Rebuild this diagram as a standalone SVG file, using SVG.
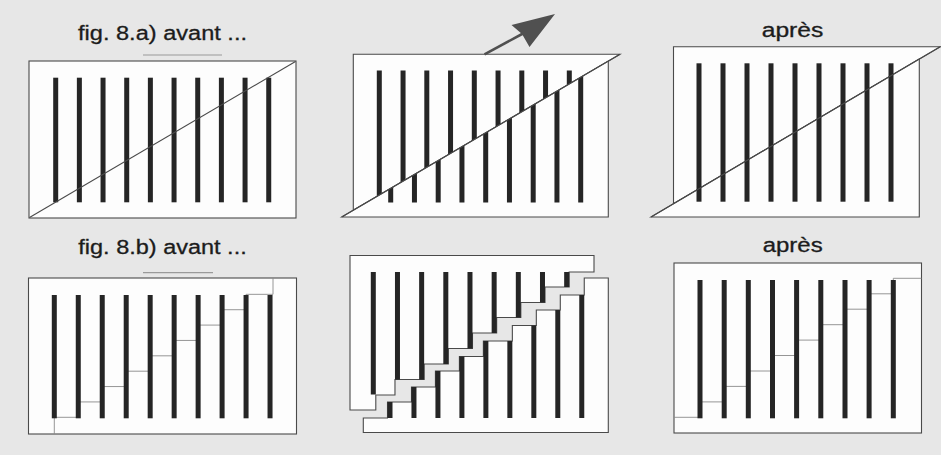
<svg xmlns="http://www.w3.org/2000/svg" width="941" height="455" viewBox="0 0 941 455">
<defs>
<style>
.bg{fill:#e7e7e7}
.pn{fill:#fdfdfd;stroke:#4a4a4a;stroke-width:1.1}
.bar{fill:#252525}
.cut{fill:none;stroke:#4a4a4a;stroke-width:1.1}
.step{fill:none;stroke:#8a8a8a;stroke-width:0.9}
.faint{stroke:#9a9a9a;stroke-width:1.2}
.lbl{font-family:"Liberation Sans",Arial,Helvetica,sans-serif;font-size:20px;fill:#1c1c1c;stroke:#1c1c1c;stroke-width:0.3}
</style>
<clipPath id="c2u"><polygon points="353.3,54.3 620,54.3 353.3,210.2"/></clipPath>
<clipPath id="c2l"><polygon points="341.7,217 608.3,61.1 608.3,217"/></clipPath>
</defs>
<rect class="bg" x="0" y="0" width="941" height="455"/>

<g id="labels">
<text class="lbl" x="78" y="39.5" textLength="169" lengthAdjust="spacingAndGlyphs">fig. 8.a) avant ...</text>
<text class="lbl" x="761.7" y="37.3" textLength="61.6" lengthAdjust="spacingAndGlyphs">après</text>
<text class="lbl" x="78.3" y="254" textLength="168.4" lengthAdjust="spacingAndGlyphs">fig. 8.b) avant ...</text>
<text class="lbl" x="762.7" y="252" textLength="60" lengthAdjust="spacingAndGlyphs">après</text>
<line class="faint" x1="143" y1="55" x2="222" y2="55"/>
<line class="faint" x1="143" y1="272.7" x2="213" y2="272.7"/>
</g>

<!-- Panel 1: fig 8.a avant -->
<g id="p1">
<rect class="pn" x="29" y="61" width="267" height="157"/>
<g>
<rect class="bar" x="53.2" y="77.7" width="5" height="124.6"/>
<rect class="bar" x="76.87" y="77.7" width="5" height="124.6"/>
<rect class="bar" x="100.54" y="77.7" width="5" height="124.6"/>
<rect class="bar" x="124.21" y="77.7" width="5" height="124.6"/>
<rect class="bar" x="147.88" y="77.7" width="5" height="124.6"/>
<rect class="bar" x="171.55" y="77.7" width="5" height="124.6"/>
<rect class="bar" x="195.22" y="77.7" width="5" height="124.6"/>
<rect class="bar" x="218.89" y="77.7" width="5" height="124.6"/>
<rect class="bar" x="242.56" y="77.7" width="5" height="124.6"/>
<rect class="bar" x="266.23" y="77.7" width="5" height="124.6"/>
</g>
<line class="cut" x1="29.5" y1="217.5" x2="295.5" y2="61.5"/>
</g>

<!-- Panel 2: sliding -->
<g id="p2">
<polygon class="pn" points="353.3,54.3 620,54.3 353.3,210.2"/>
<polygon class="pn" points="341.7,217 608.3,61.1 608.3,217"/>
<g clip-path="url(#c2u)">
<rect class="bar" x="376.8" y="70.5" width="5" height="132"/>
<rect class="bar" x="400.55" y="70.5" width="5" height="132"/>
<rect class="bar" x="424.3" y="70.5" width="5" height="132"/>
<rect class="bar" x="448.05" y="70.5" width="5" height="132"/>
<rect class="bar" x="471.8" y="70.5" width="5" height="132"/>
<rect class="bar" x="495.55" y="70.5" width="5" height="132"/>
<rect class="bar" x="519.3" y="70.5" width="5" height="132"/>
<rect class="bar" x="543.05" y="70.5" width="5" height="132"/>
<rect class="bar" x="566.8" y="70.5" width="5" height="132"/>
</g>
<g clip-path="url(#c2l)">
<rect class="bar" x="388.2" y="70.5" width="5" height="132"/>
<rect class="bar" x="411.95" y="70.5" width="5" height="132"/>
<rect class="bar" x="435.7" y="70.5" width="5" height="132"/>
<rect class="bar" x="459.45" y="70.5" width="5" height="132"/>
<rect class="bar" x="483.2" y="70.5" width="5" height="132"/>
<rect class="bar" x="506.95" y="70.5" width="5" height="132"/>
<rect class="bar" x="530.7" y="70.5" width="5" height="132"/>
<rect class="bar" x="554.45" y="70.5" width="5" height="132"/>
<rect class="bar" x="578.2" y="70.5" width="5" height="132"/>
</g>
<line class="cut" x1="341.7" y1="217" x2="620" y2="54.3"/>
<line x1="484.5" y1="54.3" x2="523" y2="33.5" stroke="#505050" stroke-width="2.6"/>
<polygon points="555,14 511.5,25 522,34 529.5,47" fill="#505050"/>
</g>

<!-- Panel 3: fig 8.a après -->
<g id="p3">
<polygon class="pn" points="673.5,46.7 940.5,46.7 673.5,203.7"/>
<polygon class="pn" points="651,217 919.3,59 919.3,217"/>
<g>
<rect class="bar" x="696.5" y="63.3" width="5" height="138.4"/>
<rect class="bar" x="720.5" y="63.3" width="5" height="138.4"/>
<rect class="bar" x="744.5" y="63.3" width="5" height="138.4"/>
<rect class="bar" x="768.5" y="63.3" width="5" height="138.4"/>
<rect class="bar" x="792.5" y="63.3" width="5" height="138.4"/>
<rect class="bar" x="816.5" y="63.3" width="5" height="138.4"/>
<rect class="bar" x="840.5" y="63.3" width="5" height="138.4"/>
<rect class="bar" x="864.5" y="63.3" width="5" height="138.4"/>
<rect class="bar" x="888.5" y="63.3" width="5" height="138.4"/>
</g>
<line class="cut" x1="651" y1="217" x2="940.5" y2="46.5"/>
</g>

<!-- Panel 4: fig 8.b avant -->
<g id="p4">
<rect class="pn" x="28.5" y="278" width="268" height="156"/>
<path class="step" d="M54.3,434 V417.3 H78.27 V401.93 H102.24 V386.56 H126.21 V371.19 H150.18 V355.82 H174.15 V340.45 H198.12 V325.08 H222.09 V309.71 H246.06 V294.34 H273 V278"/>
<g>
<rect class="bar" x="51.8" y="295" width="5" height="123.3"/>
<rect class="bar" x="75.77" y="295" width="5" height="123.3"/>
<rect class="bar" x="99.74" y="295" width="5" height="123.3"/>
<rect class="bar" x="123.71" y="295" width="5" height="123.3"/>
<rect class="bar" x="147.68" y="295" width="5" height="123.3"/>
<rect class="bar" x="171.65" y="295" width="5" height="123.3"/>
<rect class="bar" x="195.62" y="295" width="5" height="123.3"/>
<rect class="bar" x="219.59" y="295" width="5" height="123.3"/>
<rect class="bar" x="243.56" y="295" width="5" height="123.3"/>
<rect class="bar" x="267.53" y="295" width="5" height="123.3"/>
</g>
</g>

<!-- Panel 5: staircase pieces separated -->
<g id="p5">
<path class="pn" d="M363.3,432.5 V418 H387.5 V402 H411.47 V387 H435.44 V371 H459.41 V356.5 H483.38 V341 H512.35 V325.5 H536.32 V310 H560.29 V295 H584.26 V278 H608.3 V432.5 Z"/>
<path class="pn" d="M350,255.5 H594 V272 H569.16 V287 H544.99 V302.5 H520.82 V317.5 H496.65 V333 H472.48 V348.5 H448.31 V364 H424.14 V379.5 H394.97 V395 H375.8 V410 H350 Z"/>
<g>
<rect class="bar" x="370.8" y="272" width="5" height="122.5"/>
<rect class="bar" x="394.97" y="272" width="5" height="107.5"/>
<rect class="bar" x="419.14" y="272" width="5" height="107.5"/>
<rect class="bar" x="443.31" y="272" width="5" height="92"/>
<rect class="bar" x="467.48" y="272" width="5" height="76.5"/>
<rect class="bar" x="491.65" y="272" width="5" height="61"/>
<rect class="bar" x="515.82" y="272" width="5" height="45.5"/>
<rect class="bar" x="539.99" y="272" width="5" height="30.5"/>
<rect class="bar" x="564.16" y="272" width="5" height="15"/>
</g>
<g>
<rect class="bar" x="387.5" y="402" width="5" height="16"/>
<rect class="bar" x="411.47" y="387" width="5" height="31"/>
<rect class="bar" x="435.44" y="371" width="5" height="47"/>
<rect class="bar" x="459.41" y="356.5" width="5" height="61.5"/>
<rect class="bar" x="483.38" y="341" width="5" height="77"/>
<rect class="bar" x="507.35" y="341" width="5" height="77"/>
<rect class="bar" x="531.32" y="325.5" width="5" height="92.5"/>
<rect class="bar" x="555.29" y="310" width="5" height="108"/>
<rect class="bar" x="579.26" y="295" width="5" height="123"/>
</g>
</g>

<!-- Panel 6: fig 8.b après -->
<g id="p6">
<rect class="pn" x="674" y="263" width="247.5" height="170"/>
<path class="step" d="M674,417.3 H700 V401.9 H724.2 V386.4 H748.3 V371 H772.5 V355.5 H796.6 V340.1 H820.8 V324.7 H845 V309.2 H869.1 V293.8 H893.3 V278.3 H921.5"/>
<g>
<rect class="bar" x="697.5" y="280" width="5" height="138.3"/>
<rect class="bar" x="721.7" y="280" width="5" height="138.3"/>
<rect class="bar" x="745.8" y="280" width="5" height="138.3"/>
<rect class="bar" x="770" y="280" width="5" height="138.3"/>
<rect class="bar" x="794.1" y="280" width="5" height="138.3"/>
<rect class="bar" x="818.3" y="280" width="5" height="138.3"/>
<rect class="bar" x="842.5" y="280" width="5" height="138.3"/>
<rect class="bar" x="866.6" y="280" width="5" height="138.3"/>
<rect class="bar" x="890.8" y="280" width="5" height="138.3"/>
</g>
</g>
</svg>
